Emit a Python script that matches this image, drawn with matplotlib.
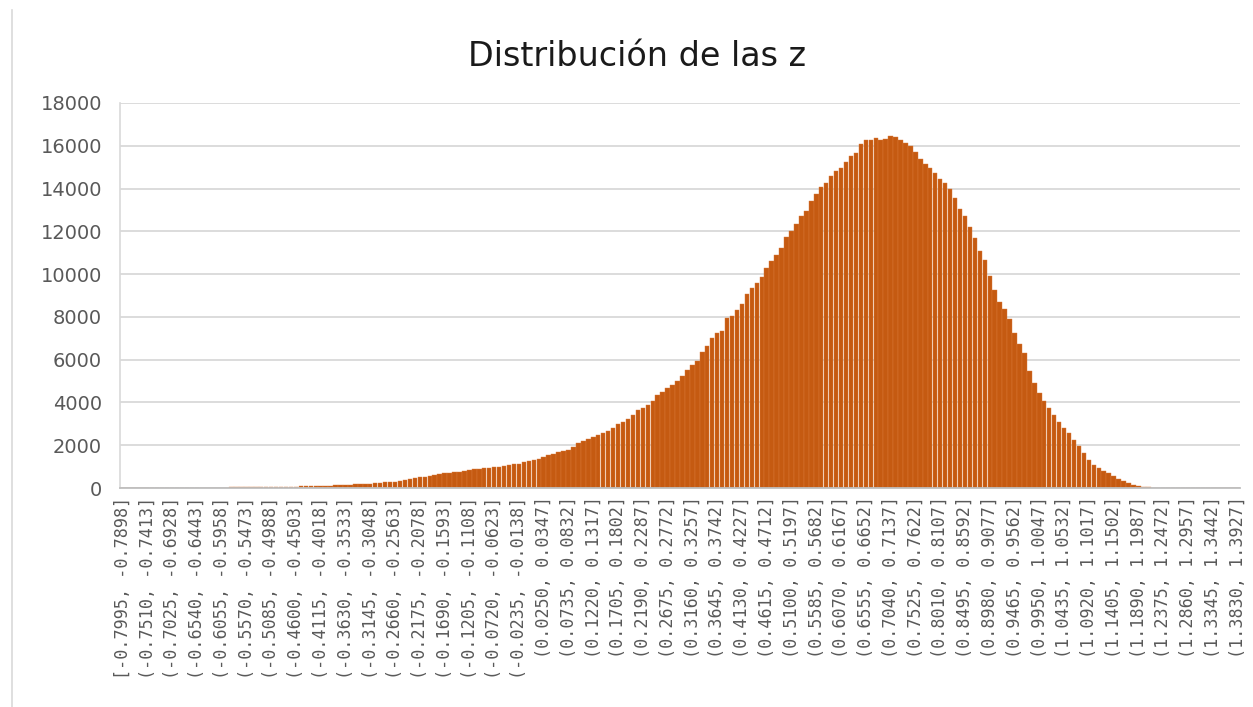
import numpy as np
import matplotlib
matplotlib.use("Agg")
import matplotlib.pyplot as plt
from matplotlib.lines import Line2D

# counts per bin (226 bins of width 0.0097, from -0.7995 to 1.3927)
counts = [
    1, 0, 1, 2, 1, 2, 3, 3, 4, 5,
    6, 7, 8, 9, 11, 12, 14, 15, 17, 19,
    21, 23, 25, 27, 30, 32, 35, 37, 40, 43,
    47, 50, 54, 58, 63, 68, 73, 79, 85, 92,
    99, 107, 115, 124, 133, 143, 154, 166, 178, 192,
    207, 223, 240, 258, 278, 300, 350, 380, 415, 455,
    495, 530, 570, 610, 650, 690, 720, 745, 765, 800,
    845, 870, 895, 920, 945, 975, 1005, 1050, 1095, 1120,
    1140, 1200, 1280, 1320, 1360, 1430, 1540, 1610, 1670, 1720,
    1780, 1920, 2100, 2200, 2270, 2370, 2500, 2590, 2660, 2790,
    3000, 3100, 3210, 3420, 3660, 3760, 3880, 4060, 4330, 4500,
    4660, 4820, 5020, 5250, 5540, 5760, 5960, 6350, 6650, 7000,
    7250, 7330, 7950, 8050, 8300, 8600, 9050, 9350, 9600, 9850,
    10300, 10600, 10900, 11200, 11750, 12000, 12350, 12700, 12950, 13400,
    13750, 14050, 14250, 14600, 14800, 14950, 15250, 15500, 15650, 16100,
    16250, 16280, 16380, 16250, 16300, 16450, 16400, 16250, 16150, 15980,
    15700, 15400, 15150, 14980, 14750, 14450, 14250, 14000, 13550, 13050,
    12700, 12200, 11700, 11100, 10650, 9900, 9250, 8700, 8350, 7900,
    7250, 6750, 6300, 5450, 4900, 4450, 4050, 3750, 3420, 3100,
    2800, 2550, 2250, 1950, 1630, 1300, 1080, 950, 800, 680,
    560, 440, 330, 230, 150, 90, 45, 25, 12, 6,
    3, 2, 1, 1, 0, 0, 0, 0, 0, 0,
    0, 0, 0, 0, 0, 0,
]

# every fifth bin gets a label
bin_labels = [
    "[-0.7995, -0.7898]", "(-0.7510, -0.7413]", "(-0.7025, -0.6928]",
    "(-0.6540, -0.6443]", "(-0.6055, -0.5958]", "(-0.5570, -0.5473]",
    "(-0.5085, -0.4988]", "(-0.4600, -0.4503]", "(-0.4115, -0.4018]",
    "(-0.3630, -0.3533]", "(-0.3145, -0.3048]", "(-0.2660, -0.2563]",
    "(-0.2175, -0.2078]", "(-0.1690, -0.1593]", "(-0.1205, -0.1108]",
    "(-0.0720, -0.0623]", "(-0.0235, -0.0138]", "(0.0250, 0.0347]",
    "(0.0735, 0.0832]", "(0.1220, 0.1317]", "(0.1705, 0.1802]",
    "(0.2190, 0.2287]", "(0.2675, 0.2772]", "(0.3160, 0.3257]",
    "(0.3645, 0.3742]", "(0.4130, 0.4227]", "(0.4615, 0.4712]",
    "(0.5100, 0.5197]", "(0.5585, 0.5682]", "(0.6070, 0.6167]",
    "(0.6555, 0.6652]", "(0.7040, 0.7137]", "(0.7525, 0.7622]",
    "(0.8010, 0.8107]", "(0.8495, 0.8592]", "(0.8980, 0.9077]",
    "(0.9465, 0.9562]", "(0.9950, 1.0047]", "(1.0435, 1.0532]",
    "(1.0920, 1.1017]", "(1.1405, 1.1502]", "(1.1890, 1.1987]",
    "(1.2375, 1.2472]", "(1.2860, 1.2957]", "(1.3345, 1.3442]",
    "(1.3830, 1.3927]",
]
label_step = 5

y_ticks = [0, 2000, 4000, 6000, 8000, 10000, 12000, 14000, 16000, 18000]

grey_text = "#595959"
grid_col = "#D9D9D9"

fig = plt.figure(figsize=(12.53, 7.07), dpi=100)
ax = fig.add_axes([120 / 1253, 1 - 488 / 707, 1120 / 1253, 385 / 707])

x = np.arange(len(counts))
ax.bar(x, counts, width=0.9, color="#C55A11", edgecolor="#D97A3A",
       linewidth=0.3, zorder=3)

ax.set_xlim(-0.5, len(counts) - 0.5)
ax.set_ylim(0, 18000)
ax.set_yticks(y_ticks)
ax.set_yticklabels([str(v) for v in y_ticks], fontsize=14, color=grey_text,
                   family="DejaVu Sans")
ax.yaxis.grid(True, color=grid_col, linewidth=1.3, zorder=0)
ax.tick_params(axis="y", length=0, pad=13)

ax.set_xticks(x[::label_step])
ax.set_xticklabels(bin_labels, rotation=90, fontsize=12.1, color=grey_text,
                   family="DejaVu Sans Mono")
ax.tick_params(axis="x", length=0, pad=6)

for side in ("top", "right"):
    ax.spines[side].set_visible(False)
ax.spines["left"].set_color(grid_col)
ax.spines["left"].set_linewidth(1.2)
ax.spines["bottom"].set_color("#BFBFBF")
ax.spines["bottom"].set_linewidth(1.3)
ax.spines["bottom"].set_zorder(4)

fig.text(0.5 + 10 / 1253, 1 - 56 / 707, "Distribución de las z", ha="center", va="center",
         fontsize=24, color="#1a1a1a", family="DejaVu Sans")

# thin frame edge on the left
fig.add_artist(Line2D([12 / 1253, 12 / 1253], [0, 1 - 10 / 707],
                      transform=fig.transFigure, color=grid_col, linewidth=1.2))

fig.savefig("out.png", dpi=100, facecolor="white")
